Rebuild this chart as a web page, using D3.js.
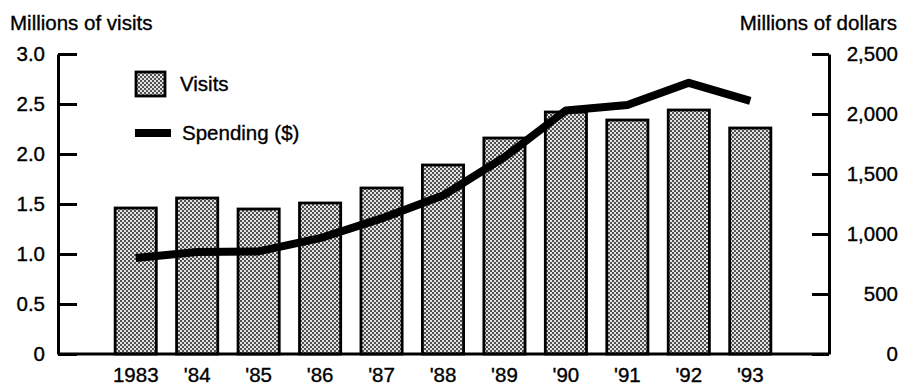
<!DOCTYPE html>
<html>
<head>
<meta charset="utf-8">
<script src="https://cdn.jsdelivr.net/npm/d3@7"></script>
<style>
  body { margin: 0; background: #fff; }
  svg { display: block; font-family: "Liberation Sans", Arial, sans-serif; }
  svg text { fill: #000; stroke: #000; stroke-width: 0.35px; }
</style>
</head>
<body>
<div id="chart"></div>
<script>
// data
const years = ["1983", "'84", "'85", "'86", "'87", "'88", "'89", "'90", "'91", "'92", "'93"];
const visits = [1.46, 1.56, 1.45, 1.51, 1.66, 1.89, 2.16, 2.42, 2.34, 2.44, 2.26];      // millions of visits
const spending = [800, 850, 855, 965, 1130, 1320, 1640, 2030, 2075, 2260, 2110];        // millions of dollars
const leftTicks = [0, 0.5, 1.0, 1.5, 2.0, 2.5, 3.0];
const rightTicks = [0, 500, 1000, 1500, 2000, 2500];

const width = 903, height = 387;
const axisLeftX = 58, axisRightX = 829, plotTop = 54, plotBottom = 354;
const fontSize = "20.5px";

const svg = d3.select("#chart")
    .append("svg")
    .attr("width", width)
    .attr("height", height);

// dotted halftone fill for the bars
const defs = svg.append("defs");
const pat = defs.append("pattern")
    .attr("id", "dots")
    .attr("patternUnits", "userSpaceOnUse")
    .attr("width", 4)
    .attr("height", 4);
pat.append("rect").attr("width", 4).attr("height", 4).attr("fill", "#e4e4e4");
pat.append("circle").attr("cx", 1).attr("cy", 1).attr("r", 0.95).attr("fill", "#111");
pat.append("circle").attr("cx", 3).attr("cy", 3).attr("r", 0.95).attr("fill", "#111");

// scales
const x = d3.scaleBand()
    .domain(years)
    .range([105, 781])
    .paddingInner(0.33)
    .paddingOuter(0.165);

const yL = d3.scaleLinear().domain([0, 3]).range([plotBottom, plotTop]);
const yR = d3.scaleLinear().domain([0, 2500]).range([plotBottom, plotTop]);

// bars
svg.append("g")
    .selectAll("rect")
    .data(visits)
    .enter()
    .append("rect")
    .attr("x", (d, i) => x(years[i]))
    .attr("y", d => yL(d))
    .attr("width", x.bandwidth())
    .attr("height", d => yL(0) - yL(d))
    .attr("fill", "url(#dots)")
    .attr("stroke", "#000")
    .attr("stroke-width", 2.8);

// spending line
const line = d3.line()
    .x((d, i) => x(years[i]) + x.bandwidth() / 2)
    .y(d => yR(d));
svg.append("path")
    .datum(spending)
    .attr("d", line)
    .attr("fill", "none")
    .attr("stroke", "#000")
    .attr("stroke-width", 8)
    .attr("stroke-linejoin", "round");

// baseline
svg.append("line")
    .attr("x1", axisLeftX).attr("x2", axisRightX)
    .attr("y1", plotBottom).attr("y2", plotBottom)
    .attr("stroke", "#000").attr("stroke-width", 3);

// left axis (ticks point inward, labels on the outside)
const gl = svg.append("g")
    .attr("transform", "translate(" + axisLeftX + ",0)")
    .call(d3.axisLeft(yL)
        .tickValues(leftTicks)
        .tickSizeInner(-19)
        .tickSizeOuter(0)
        .tickPadding(13)
        .tickFormat(d => d === 0 ? "0" : d3.format(".1f")(d)));

// right axis
const gr = svg.append("g")
    .attr("transform", "translate(" + axisRightX + ",0)")
    .call(d3.axisRight(yR)
        .tickValues(rightTicks)
        .tickSizeInner(-17)
        .tickSizeOuter(0)
        .tickFormat(d3.format(",")));
gr.selectAll(".tick text")
    .attr("x", 69)
    .attr("text-anchor", "end");

[gl, gr].forEach(g => {
    g.select(".domain").attr("stroke", "#000").attr("stroke-width", 3);
    g.selectAll(".tick line").attr("stroke", "#000").attr("stroke-width", 3);
    g.selectAll(".tick text")
        .attr("fill", "#000")
        .style("font-size", fontSize)
        .style("font-family", "'Liberation Sans', Arial, sans-serif");
});

// x labels
svg.append("g")
    .selectAll("text")
    .data(years)
    .enter()
    .append("text")
    .attr("x", d => x(d) + x.bandwidth() / 2)
    .attr("y", 382)
    .attr("text-anchor", "middle")
    .style("font-size", fontSize)
    .text(d => d);

// axis titles
svg.append("text")
    .attr("x", 10).attr("y", 30)
    .style("font-size", fontSize)
    .text("Millions of visits");
svg.append("text")
    .attr("x", 897).attr("y", 30)
    .attr("text-anchor", "end")
    .style("font-size", fontSize)
    .text("Millions of dollars");

// legend
svg.append("rect")
    .attr("x", 136).attr("y", 72)
    .attr("width", 29).attr("height", 24)
    .attr("fill", "url(#dots)")
    .attr("stroke", "#000").attr("stroke-width", 2.8);
svg.append("text")
    .attr("x", 180).attr("y", 91)
    .style("font-size", fontSize)
    .text("Visits");
svg.append("line")
    .attr("x1", 135).attr("x2", 171)
    .attr("y1", 133).attr("y2", 133)
    .attr("stroke", "#000").attr("stroke-width", 8);
svg.append("text")
    .attr("x", 182).attr("y", 140)
    .style("font-size", fontSize)
    .text("Spending ($)");
</script>
</body>
</html>
